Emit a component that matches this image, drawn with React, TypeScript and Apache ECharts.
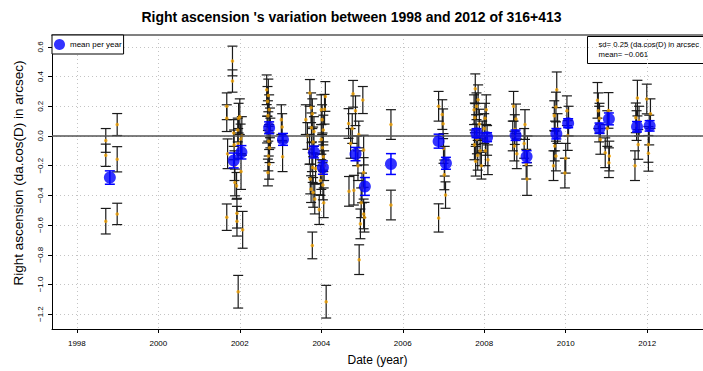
import React, { useEffect, useRef } from "react";
import * as echarts from "echarts";

// ---- data: [date (year), value (arcsec), error] ----
const obs1998 = [
  [1998.71, -0.03, 0.08], [1998.71, -0.13, 0.075], [1998.71, -0.574, 0.086],
  [1998.99, 0.077, 0.074], [1998.99, -0.157, 0.085], [1998.99, -0.525, 0.072],
];
const obs2002 = [
  [2001.68, 0.2, 0.09], [2001.68, 0.12, 0.09], [2001.7, -0.12, 0.1], [2001.68, -0.547, 0.089],
  [2001.82, 0.505, 0.1], [2001.82, 0.37, 0.075], [2001.85, 0.02, 0.09], [2001.86, -0.06, 0.1],
  [2001.87, -0.2, 0.1], [2001.88, -0.313, 0.09], [2001.92, -0.336, 0.09], [2001.93, -0.52, 0.1],
  [2001.93, -0.574, 0.1], [2001.96, -1.049, 0.11], [2001.95, 0.04, 0.08], [2001.96, -0.05, 0.1],
  [2001.97, 0.12, 0.1], [2002.0, 0.13, 0.12], [2002.02, -0.02, 0.1], [2002.03, -0.24, 0.12],
  [2002.07, -0.632, 0.124], [2002.05, 0.0, 0.13],
];
const obs2003 = [
  [2002.66, 0.311, 0.1], [2002.7, 0.273, 0.11], [2002.68, 0.233, 0.1], [2002.72, 0.177, 0.1],
  [2002.69, 0.137, 0.1], [2002.74, 0.088, 0.1], [2002.67, 0.043, 0.09], [2002.71, -0.035, 0.1],
  [2002.73, -0.079, 0.1], [2002.7, -0.135, 0.1], [2002.72, -0.191, 0.1], [2002.69, -0.246, 0.09],
  [2002.75, 0.02, 0.1], [2003.02, 0.11, 0.1], [2003.04, 0.06, 0.09], [2003.05, -0.14, 0.1],
];
const obs2004 = [
  [2003.72, 0.29, 0.09], [2003.75, 0.19, 0.1], [2003.78, 0.15, 0.1], [2003.62, 0.11, 0.1],
  [2003.76, 0.055, 0.1], [2003.82, 0.03, 0.1], [2003.66, 0.0, 0.09], [2003.8, -0.04, 0.1],
  [2003.71, -0.09, 0.1], [2003.77, -0.14, 0.1], [2003.79, -0.213, 0.1], [2003.86, -0.22, 0.1],
  [2003.73, -0.29, 0.1], [2003.75, -0.358, 0.09], [2003.84, -0.425, 0.1], [2003.8, -0.38, 0.1],
  [2003.78, -0.737, 0.09], [2003.95, -0.496, 0.1], [2004.1, 0.266, 0.1], [2004.0, 0.177, 0.1],
  [2004.08, 0.18, 0.1], [2004.02, 0.11, 0.1], [2004.05, 0.04, 0.1], [2004.0, -0.023, 0.1],
  [2004.03, -0.08, 0.1], [2004.05, -0.14, 0.1], [2004.07, -0.2, 0.1], [2004.0, -0.26, 0.1],
  [2004.04, -0.33, 0.1], [2004.06, -0.45, 0.1], [2004.12, -1.116, 0.11], [2003.98, -0.3, 0.1],
];
const obs2005 = [
  [2004.67, 0.084, 0.1], [2004.78, 0.284, 0.09], [2004.84, 0.17, 0.1], [2004.76, 0.05, 0.1],
  [2004.92, 0.01, 0.09], [2005.02, 0.242, 0.091], [2005.04, -0.095, 0.1], [2004.9, -0.2, 0.1],
  [2005.04, -0.246, 0.1], [2004.68, -0.373, 0.1], [2004.8, -0.365, 0.1], [2005.04, -0.525, 0.1],
  [2005.06, -0.547, 0.1], [2004.96, -0.592, 0.1], [2004.93, -0.833, 0.1], [2004.72, -0.05, 0.1],
  [2004.88, -0.1, 0.1], [2005.0, -0.35, 0.1], [2004.98, -0.45, 0.1],
  [2005.71, 0.077, 0.1], [2005.71, -0.465, 0.1],
];
const obs2007 = [
  [2006.88, 0.2, 0.1], [2006.88, -0.552, 0.095], [2006.97, 0.144, 0.1], [2006.99, 0.082, 0.1],
  [2007.0, -0.084, 0.1], [2007.02, -0.262, 0.1], [2007.05, -0.398, 0.089], [2007.03, -0.17, 0.1],
];
const obs2008 = [
  [2007.78, 0.318, 0.1], [2007.85, 0.244, 0.1], [2007.75, 0.177, 0.1], [2007.77, 0.122, 0.1],
  [2007.8, 0.043, 0.1], [2007.82, -0.02, 0.1], [2007.76, -0.06, 0.1], [2007.84, -0.13, 0.1],
  [2007.79, -0.17, 0.1], [2007.88, 0.08, 0.1], [2007.9, -0.1, 0.1], [2007.81, 0.2, 0.09],
  [2008.05, 0.177, 0.1], [2008.0, 0.05, 0.1], [2008.07, -0.03, 0.1], [2008.03, -0.1, 0.1],
  [2008.09, -0.16, 0.1], [2007.95, 0.0, 0.1], [2008.02, 0.12, 0.1], [2007.93, -0.2, 0.09],
];
const obs2009 = [
  [2008.72, 0.2, 0.1], [2008.78, 0.115, 0.1], [2008.75, 0.043, 0.1], [2008.74, -0.068, 0.1],
  [2008.8, -0.12, 0.1], [2008.7, 0.0, 0.1], [2009.0, 0.077, 0.1], [2009.03, -0.19, 0.1],
  [2009.05, -0.29, 0.11], [2009.06, -0.1, 0.1], [2008.98, -0.05, 0.1],
];
const obs2010 = [
  [2009.78, 0.311, 0.12], [2009.72, 0.137, 0.1], [2009.76, 0.195, 0.1], [2009.73, -0.068, 0.1],
  [2009.7, -0.2, 0.1], [2009.76, -0.135, 0.1], [2009.8, 0.05, 0.1], [2009.74, 0.0, 0.1],
  [2010.05, 0.003, 0.1], [2010.03, 0.17, 0.1], [2010.07, 0.1, 0.1], [2010.0, -0.15, 0.1],
  [2009.98, -0.25, 0.1],
];
const obs2011 = [
  [2010.78, 0.24, 0.12], [2010.8, 0.17, 0.12], [2011.05, 0.172, 0.12], [2010.97, -0.113, 0.1],
  [2011.07, -0.135, 0.1], [2011.06, -0.18, 0.1], [2010.85, -0.023, 0.1], [2010.82, 0.08, 0.12],
  [2011.02, 0.05, 0.12], [2010.83, 0.12, 0.1],
];
const obs2012 = [
  [2011.76, 0.255, 0.12], [2011.99, 0.249, 0.1], [2011.72, 0.122, 0.1], [2011.78, -0.057, 0.1],
  [2011.7, -0.2, 0.1], [2012.03, -0.057, 0.12], [2012.03, -0.117, 0.12], [2011.74, 0.07, 0.1],
  [2012.05, 0.04, 0.1], [2011.8, 0.1, 0.1], [2012.08, 0.15, 0.1],
];

const meanDate = [1998.81, 2001.85, 2002.04, 2002.72, 2003.06, 2003.82, 2004.04, 2004.84, 2005.07, 2005.71, 2006.88, 2007.06, 2007.81, 2008.07, 2008.77, 2009.04, 2009.77, 2010.06, 2010.83, 2011.06, 2011.75, 2012.06];
const meanValue = [-0.28, -0.165, -0.11, 0.055, -0.023, -0.108, -0.213, -0.122, -0.34, -0.189, -0.035, -0.184, 0.019, -0.008, 0.005, -0.139, 0.015, 0.086, 0.052, 0.115, 0.062, 0.068];
const meanErr = [0.045, 0.05, 0.045, 0.04, 0.04, 0.04, 0.045, 0.045, 0.06, 0.07, 0.047, 0.04, 0.03, 0.03, 0.035, 0.04, 0.035, 0.03, 0.035, 0.04, 0.035, 0.035];

const xTicks = [1998, 2000, 2002, 2004, 2006, 2008, 2010, 2012];
const yTicks = [-1.2, -1.0, -0.8, -0.6, -0.4, -0.2, 0.0, 0.2, 0.4, 0.6];

const titleText = "Right ascension 's variation between 1998 and 2012 of 316+413";
const yName = "Right ascension (da.cos(D) in arcsec)";
const statLines = ["sd= 0.25 (da.cos(D) in arcsec", "mean= \u22120.061"];

const observations = [
  ...obs1998, ...obs2002, ...obs2003, ...obs2004, ...obs2005, ...obs2007,
  ...obs2008, ...obs2009, ...obs2010, ...obs2011, ...obs2012,
];
const meanRows = meanDate.map((d, i) => [d, meanValue[i], meanErr[i]]);

const FONT = "'Liberation Sans', Arial, Helvetica, sans-serif";

function errorBarRenderer(color: string, width: number, half: number) {
  return (params: any, api: any) => {
    const x = api.value(0);
    const y = api.value(1);
    const e = api.value(2);
    const top = api.coord([x, y + e]);
    const bot = api.coord([x, y - e]);
    const style = { stroke: color, lineWidth: width };
    return {
      type: "group",
      children: [
        { type: "line", shape: { x1: top[0], y1: top[1], x2: bot[0], y2: bot[1] }, style },
        { type: "line", shape: { x1: top[0] - half, y1: top[1], x2: top[0] + half, y2: top[1] }, style },
        { type: "line", shape: { x1: bot[0] - half, y1: bot[1], x2: bot[0] + half, y2: bot[1] }, style },
      ],
    };
  };
}

const fmtY = (v: number) => (v < 0 ? "\u2212" : "") + Math.abs(v).toFixed(1);

export default function App() {
  const ref = useRef<HTMLDivElement>(null);
  useEffect(() => {
    if (!ref.current) return;
    const chart = echarts.init(ref.current, undefined, { renderer: "svg" });
    const xMin = 1997.39;
    const xMax = 2013.37;
    chart.setOption({
      animation: false,
      backgroundColor: "#fff",
      textStyle: { fontFamily: FONT },
      title: {
        text: titleText,
        left: "center",
        top: 5,
        textStyle: { fontSize: 14, fontWeight: "bold", color: "#000", fontFamily: FONT },
      },
      legend: {
        data: ["mean per year"],
        left: 52,
        top: 35,
        icon: "circle",
        itemWidth: 11,
        itemHeight: 11,
        padding: [4, 2, 4, 2],
        borderColor: "#000",
        borderWidth: 1,
        backgroundColor: "#fff",
        textStyle: { fontSize: 8, color: "#000", fontFamily: FONT },
      },
      grid: { left: 52, right: 0, top: 35, bottom: 40, containLabel: false },
      xAxis: [
        {
          type: "value",
          min: xMin,
          max: xMax,
          name: "Date (year)",
          nameLocation: "middle",
          nameGap: 25,
          nameTextStyle: { fontSize: 12, color: "#000", fontFamily: FONT },
          axisLine: { show: true, onZero: false, lineStyle: { color: "#000", width: 1 } },
          axisTick: { show: true, customValues: xTicks, length: 4, lineStyle: { color: "#000" } },
          axisLabel: { customValues: xTicks, fontSize: 8, color: "#000", margin: 10, formatter: (v: number) => String(v) },
          splitLine: { show: true, lineStyle: { color: "#c4c4c4", type: [1, 3], width: 1 } },
        },
        {
          type: "value",
          position: "top",
          min: xMin,
          max: xMax,
          axisLine: { show: true, onZero: false, lineStyle: { color: "#808080", width: 2 } },
          axisTick: { show: false },
          axisLabel: { show: false },
          splitLine: { show: false },
        },
      ],
      yAxis: {
        type: "value",
        min: -1.3,
        max: 0.68,
        axisLine: { show: true, onZero: false, lineStyle: { color: "#000", width: 1 } },
        axisTick: { show: true, customValues: yTicks, length: 4, lineStyle: { color: "#000" } },
        axisLabel: { customValues: yTicks, rotate: 90, fontSize: 8, color: "#000", margin: 8, formatter: fmtY },
        splitLine: { show: true, lineStyle: { color: "#c4c4c4", type: [1, 3], width: 1 } },
      },
      graphic: [
        {
          type: "text",
          x: 18,
          y: 173,
          rotation: Math.PI / 2,
          style: { text: yName, fontSize: 13.5, fill: "#000", fontFamily: FONT, align: "center", verticalAlign: "middle" },
        },
        {
          type: "group",
          left: 587,
          top: 36,
          children: [
            { type: "rect", shape: { x: 0, y: 0, width: 140, height: 27 }, style: { fill: "#fff", stroke: "#000", lineWidth: 1 } },
            { type: "text", x: 11, y: 4, style: { text: statLines[0], fontSize: 7.7, fill: "#000", fontFamily: FONT } },
            { type: "text", x: 11, y: 14, style: { text: statLines[1], fontSize: 7.7, fill: "#000", fontFamily: FONT } },
          ],
        },
      ],
      series: [
        {
          name: "obs error",
          type: "custom",
          renderItem: errorBarRenderer("#1a1a1a", 1.2, 5),
          data: observations,
          encode: { x: 0, y: 1 },
          silent: true,
          z: 2,
          markLine: {
            silent: true,
            symbol: "none",
            label: { show: false },
            lineStyle: { color: "#555", type: "solid", width: 1.5 },
            data: [{ yAxis: 0 }],
          },
        },
        {
          name: "observations",
          type: "scatter",
          data: observations.map((r) => [r[0], r[1]]),
          symbol: "circle",
          symbolSize: 3.5,
          itemStyle: { color: "#f0a000" },
          z: 3,
        },
        {
          name: "mean error",
          type: "custom",
          renderItem: errorBarRenderer("#0000ff", 1.5, 5),
          data: meanRows,
          encode: { x: 0, y: 1 },
          silent: true,
          z: 4,
        },
        {
          name: "mean per year",
          type: "scatter",
          data: meanRows.map((r) => [r[0], r[1]]),
          symbol: "circle",
          symbolSize: 12,
          itemStyle: { color: "#0000ff" },
          z: 5,
        },
      ],
    });
    return () => chart.dispose();
  }, []);
  return <div ref={ref} style={{ position: "absolute", left: 0, top: 0, width: 703, height: 371 }} />;
}
